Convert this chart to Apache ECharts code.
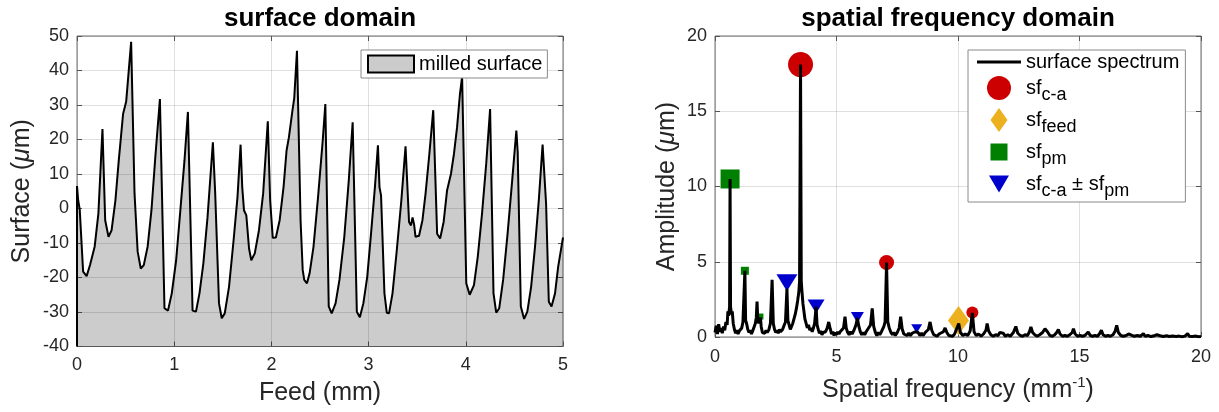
<!DOCTYPE html>
<html>
<head>
<meta charset="utf-8">
<script src="https://cdn.jsdelivr.net/npm/echarts@6/dist/echarts.min.js"></script>
<style>
html,body{margin:0;padding:0;background:#fff;}
#c{width:1219px;height:412px;}
</style>
</head>
<body>
<div id="c"></div>
<script>
// ---------- data ----------
// surface domain: feed position (mm) and surface height (um)
const feedMm = [
  0, 0.012, 0.028, 0.063, 0.099, 0.134, 0.182, 0.220, 0.262, 0.290,
  0.324, 0.356, 0.395, 0.430, 0.474, 0.506, 0.557, 0.592, 0.624, 0.656,
  0.687, 0.727, 0.766, 0.806, 0.853, 0.900, 0.936, 0.975, 1.020, 1.066,
  1.106, 1.141, 1.189, 1.224, 1.260, 1.300, 1.343, 1.398, 1.422, 1.461,
  1.489, 1.520, 1.564, 1.611, 1.651, 1.683, 1.700, 1.718, 1.742, 1.770,
  1.793, 1.829, 1.872, 1.915, 1.963, 1.987, 2.014, 2.046, 2.085, 2.125,
  2.156, 2.180, 2.216, 2.235, 2.263, 2.300, 2.322, 2.338, 2.366, 2.393,
  2.433, 2.480, 2.528, 2.555, 2.590, 2.620, 2.660, 2.700, 2.750, 2.796,
  2.836, 2.879, 2.910, 2.946, 2.986, 3.025, 3.065, 3.096, 3.112, 3.128,
  3.163, 3.187, 3.210, 3.246, 3.290, 3.337, 3.380, 3.416, 3.436, 3.452,
  3.468, 3.483, 3.519, 3.554, 3.586, 3.625, 3.665, 3.705, 3.736, 3.772,
  3.807, 3.847, 3.878, 3.910, 3.940, 3.962, 4.005, 4.040, 4.084, 4.123,
  4.167, 4.210, 4.250, 4.285, 4.313, 4.344, 4.384, 4.430, 4.477, 4.520,
  4.534, 4.566, 4.600, 4.633, 4.672, 4.712, 4.751, 4.790, 4.826, 4.854,
  4.882, 4.918, 4.950, 5.000
];
const surfaceUm = [
  6.5, 2.4, -0.3, -18.3, -19.6, -16.4, -11, -1.5, 23, -3.4,
  -8.2, -6.3, 2.3, 14, 27.4, 31, 48.3, 4.3, -12.5, -17.4,
  -16.4, -11, -0.5, 15, 31.7, -28.9, -29.6, -24.6, -15, 0.4,
  14, 28, -29.6, -29.9, -24.6, -15.9, -2.5, 19.2, 4.3, -27.5,
  -31.8, -30.4, -22.7, -9.2, 3.3, 18.5, 6.2, -0.5, -2, -11.6,
  -15, -13, -6.3, 4.3, 25.3, 2.4, -8.5, -8.4, -3.4, 6.2,
  16.8, 20.6, 28.3, 32, 45.7, -3.4, -17.8, -20.7, -21.7, -18.8,
  -11.1, 3.3, 19.7, 30.3, -28.4, -30.4, -27.5, -20.7, -8.2, 8.1,
  25, -29.9, -31.5, -27.5, -19.8, -7.3, 6.2, 18.3, 6.2, 3.8,
  -24.6, -30.2, -30.4, -24.6, -12.1, 2.4, 18.0, -3.9, -4.9, -2.6,
  -4.6, -8.2, -7.9, -3.4, 4.3, 15.8, 28.5, -7.3, -8.7, -3.9,
  5.2, 10, 15.8, 23.5, 33.2, 38.2, -21.7, -25, -22.2, -14,
  -1.5, 13, 28.8, -24.6, -30.2, -28.9, -20.7, -7.3, 8.1, 22.6,
  16.3, -28.4, -32, -29.9, -22.7, -11.1, 2.4, 18.5, 1.4, -27,
  -28.4, -24.6, -16.9, -8.4
];

// spatial frequency domain: spectrum (mm^-1, um)
const specFreq = [
  0.00,0.05,0.10,0.15,0.20,0.25,0.30,0.35,0.40,0.45,
  0.50,0.53,0.56,0.60,0.62,0.64,0.68,0.71,0.75,0.80,
  0.85,0.90,0.95,1.00,1.05,1.10,1.15,1.20,1.23,1.26,
  1.30,1.35,1.40,1.45,1.50,1.55,1.60,1.66,1.70,1.73,
  1.76,1.80,1.87,1.90,1.95,2.00,2.05,2.10,2.15,2.22,
  2.28,2.35,2.40,2.45,2.50,2.55,2.60,2.65,2.70,2.78,
  2.85,2.90,2.96,3.00,3.05,3.10,3.15,3.20,3.25,3.30,
  3.35,3.40,3.45,3.48,3.52,3.55,3.58,3.62,3.66,3.70,
  3.75,3.80,3.85,3.90,3.95,4.00,4.05,4.10,4.16,4.20,
  4.25,4.30,4.35,4.40,4.45,4.50,4.55,4.62,4.68,4.74,
  4.80,4.85,4.90,4.95,5.00,5.05,5.10,5.15,5.22,5.29,
  5.35,5.40,5.46,5.52,5.58,5.64,5.72,5.80,5.86,5.92,
  5.98,6.04,6.10,6.16,6.22,6.30,6.40,6.47,6.53,6.60,
  6.66,6.72,6.78,6.85,6.95,7.00,7.06,7.11,7.17,7.24,
  7.30,7.36,7.42,7.50,7.58,7.64,7.70,7.77,7.84,7.90,
  7.97,8.04,8.11,8.18,8.24,8.30,8.36,8.43,8.50,8.57,
  8.65,8.78,8.85,8.92,9.00,9.07,9.14,9.22,9.30,9.40,
  9.47,9.54,9.62,9.70,9.78,9.86,9.94,10.03,10.10,10.20,
  10.30,10.40,10.50,10.59,10.66,10.75,10.85,10.95,11.05,11.15,
  11.20,11.26,11.35,11.45,11.55,11.65,11.72,11.79,11.86,11.95,
  12.05,12.15,12.28,12.38,12.46,12.56,12.66,12.76,12.86,12.94,
  13.00,13.07,13.16,13.26,13.36,13.48,13.58,13.68,13.78,13.88,
  13.98,14.06,14.13,14.20,14.30,14.40,14.50,14.60,14.70,14.75,
  14.82,14.92,15.02,15.12,15.22,15.30,15.36,15.44,15.54,15.64,
  15.74,15.84,15.90,15.97,16.07,16.17,16.27,16.38,16.47,16.53,
  16.60,16.70,16.80,16.92,17.02,17.08,17.16,17.26,17.38,17.50,
  17.58,17.63,17.70,17.82,17.95,18.07,18.18,18.25,18.32,18.45,
  18.58,18.70,18.82,18.90,18.98,19.10,19.22,19.34,19.45,19.52,
  19.65,19.80,19.90,20.00
];
const specAmp = [
  0.3,0.75,0.2,0.85,0.35,0.6,0.25,0.7,0.45,1.0,
  0.8,1.7,1.4,2.0,10.5,2.0,1.5,1.7,0.9,0.5,
  0.25,0.45,0.2,0.4,0.3,0.6,1.0,1.1,4.4,1.1,
  0.9,0.5,0.3,0.45,0.2,0.4,0.5,0.9,1.3,2.35,
  1.2,0.9,1.3,0.7,0.3,0.4,0.25,0.45,0.3,0.5,
  0.9,3.8,0.9,0.5,0.3,0.45,0.25,0.5,0.35,0.5,
  0.8,1.0,3.2,1.1,0.8,0.5,0.7,0.9,1.2,1.5,
  1.9,2.4,3.0,3.7,18.1,3.7,3.0,2.2,1.7,1.2,
  0.9,0.6,0.8,0.45,0.6,0.35,0.6,0.9,2.0,0.8,
  0.5,0.25,0.4,0.15,0.3,0.2,0.35,0.6,1.0,0.55,
  0.2,0.35,0.1,0.3,0.15,0.35,0.2,0.35,0.3,0.6,
  1.35,0.6,0.3,0.15,0.35,0.2,0.45,0.8,1.25,0.7,
  0.35,0.15,0.3,0.15,0.35,0.4,0.8,1.9,0.7,0.3,
  0.1,0.3,0.15,0.35,0.7,1.0,4.95,1.0,0.6,0.3,
  0.15,0.3,0.1,0.3,0.6,1.35,0.55,0.2,0.3,0.1,
  0.25,0.1,0.25,0.2,0.35,0.45,0.3,0.1,0.25,0.1,
  0.3,0.5,1.0,0.45,0.15,0.25,0.05,0.2,0.1,0.35,
  0.6,0.3,0.1,0.2,0.05,0.2,0.25,0.9,0.3,0.1,
  0.2,0.1,0.4,1.6,0.35,0.1,0.2,0.05,0.2,0.45,
  0.9,0.4,0.15,0.05,0.15,0.1,0.3,0.4,0.25,0.05,
  0.15,0.05,0.3,0.7,0.25,0.1,0.05,0.15,0.1,0.35,
  0.67,0.3,0.15,0.05,0.15,0.3,0.55,0.35,0.1,0.05,
  0.15,0.3,0.5,0.2,0.05,0.1,0.05,0.15,0.3,0.55,
  0.2,0.05,0.1,0.05,0.1,0.2,0.33,0.1,0.05,0.1,
  0.05,0.25,0.45,0.15,0.05,0.1,0.05,0.15,0.4,0.78,
  0.3,0.1,0.05,0.1,0.2,0.33,0.1,0.05,0.1,0.05,
  0.15,0.22,0.05,0.1,0.03,0.08,0.15,0.27,0.08,0.03,
  0.08,0.03,0.06,0.1,0.04,0.06,0.02,0.06,0.22,0.05,
  0.03,0.06,0.02,0.04
];

// marked frequencies
const caFreq = [3.52, 7.06, 10.59];
const caAmp = [18.1, 4.95, 1.63];
const feedFreq = [10.02];
const feedAmp = [1.1];
const pmFreq = [0.62, 1.23, 1.87];
const pmAmp = [10.5, 4.4, 1.36];
const sideFreq = [2.96, 4.16, 5.86, 8.30];
const sideAmp = [3.6, 2.03, 1.3, 0.55];

// series names
const surfaceName = 'milled surface';
const spectrumName = 'surface spectrum';
const caName = 'sf c-a';
const feedName = 'sf feed';
const pmName = 'sf pm';
const sideName = 'sf c-a ± sf pm';

// ---------- styles ----------
const FONT = '"Liberation Sans", Arial, Helvetica, sans-serif';
const TXT = '#262626';
const GRIDC = 'rgba(38,38,38,0.15)';
const BORDER = '#6e6e6e';
const caSizes = [25, 15, 12];
const pmSizes = [19, 8, 6];
const sideSizes = [[21, 17], [17, 14], [13, 11], [11, 9]];
// legend icons drawn in a 44x24 box (corner points keep the box size)
const BOX = 'M0,0L0,0ZM44,24L44,24Z';
const iconLine = 'path://M0,0H44V3H0Z';
const iconDiamond = 'path://' + BOX + 'M22,0L30.5,12L22,24L13.5,12Z';
const iconSquare = 'path://' + BOX + 'M13.5,3.5H30.5V20.5H13.5Z';
const iconTriDown = 'path://' + BOX + 'M12,3.5H32L22,20.5Z';

function pairs(xs, ys) {
  const n = Math.min(xs.length, ys.length);
  const out = [];
  for (let i = 0; i < n; i++) out.push([xs[i], ys[i]]);
  return out;
}

function mainAxisX(grid, min, max, interval, name, gap, rich) {
  return {
    gridIndex: grid, type: 'value', min: min, max: max, interval: interval,
    name: name, nameLocation: 'middle', nameGap: gap,
    nameTextStyle: { fontSize: 25, color: TXT, fontFamily: FONT, rich: rich },
    axisLine: { show: false, onZero: false },
    axisTick: { show: true, inside: true, length: 5, lineStyle: { color: '#555' } },
    axisLabel: { fontSize: 18, color: TXT, fontFamily: FONT, margin: grid === 0 ? 10 : 11 },
    splitLine: { show: true, lineStyle: { color: GRIDC, width: 1 } }
  };
}
function mainAxisY(grid, min, max, interval, name, gap, rich) {
  return {
    gridIndex: grid, type: 'value', min: min, max: max, interval: interval,
    name: name, nameLocation: 'middle', nameGap: gap,
    nameTextStyle: { fontSize: 25, color: TXT, fontFamily: FONT, rich: rich },
    axisLine: { show: false, onZero: false },
    axisTick: { show: true, inside: true, length: 5, lineStyle: { color: '#555' } },
    axisLabel: { fontSize: 18, color: TXT, fontFamily: FONT, margin: 8 },
    splitLine: { show: true, lineStyle: { color: GRIDC, width: 1 } }
  };
}
function mirrorAxis(grid, pos, min, max, interval) {
  return {
    gridIndex: grid, type: 'value', position: pos, min: min, max: max, interval: interval,
    axisLine: { show: false, onZero: false }, axisLabel: { show: false }, splitLine: { show: false },
    axisTick: { show: true, inside: true, length: 5, lineStyle: { color: '#555' } }
  };
}

const muRich = {
  t: { fontSize: 25, color: TXT, fontFamily: FONT },
  i: { fontSize: 25, color: TXT, fontFamily: FONT, fontStyle: 'italic' }
};
const supRich = {
  t: { fontSize: 25, color: TXT, fontFamily: FONT },
  sup: { fontSize: 15, color: TXT, fontFamily: FONT, padding: [0, 0, 16, 0] }
};

const legendLabels = {};
legendLabels[spectrumName] = '{m|surface spectrum}';
legendLabels[caName] = '{m|sf}{s|c-a}';
legendLabels[feedName] = '{m|sf}{s|feed}';
legendLabels[pmName] = '{m|sf}{s|pm}';
legendLabels[sideName] = '{m|sf}{s|c-a}{m| \u00b1 sf}{s|pm}';

const yMinLeft = -40;
const surfaceData = [[feedMm[0], yMinLeft]].concat(pairs(feedMm, surfaceUm));

const option = {
  animation: false,
  backgroundColor: '#ffffff',
  textStyle: { fontFamily: FONT },
  grid: [
    { left: 77, top: 36, width: 486, height: 310.5, show: true, borderColor: BORDER, borderWidth: 1 },
    { left: 715, top: 36, width: 486, height: 301, show: true, borderColor: BORDER, borderWidth: 1 }
  ],
  xAxis: [
    mainAxisX(0, 0, 5, 1, 'Feed (mm)', 34, muRich),
    mainAxisX(1, 0, 20, 5, '{t|Spatial frequency (mm}{sup|-1}{t|)}', 38, supRich),
    mirrorAxis(0, 'top', 0, 5, 1),
    mirrorAxis(1, 'top', 0, 20, 5)
  ],
  yAxis: [
    mainAxisY(0, -40, 50, 10, '{t|Surface (}{i|\u03bc}{t|m)}', 42, muRich),
    mainAxisY(1, 0, 20, 5, '{t|Amplitude (}{i|\u03bc}{t|m)}', 35, muRich),
    mirrorAxis(0, 'right', -40, 50, 10),
    mirrorAxis(1, 'right', 0, 20, 5)
  ],
  legend: [
    {
      data: [surfaceName], left: 361, top: 50, orient: 'horizontal',
      itemWidth: 46, itemHeight: 17, icon: 'rect', selectedMode: false,
      padding: [4, 5, 4, 6], backgroundColor: '#fff', borderColor: '#8a8a8a', borderWidth: 1, borderRadius: 0,
      itemStyle: { color: '#cccccc', borderColor: '#000', borderWidth: 2 },
      textStyle: { fontSize: 20, color: '#000', fontFamily: FONT }
    },
    {
      data: [
        { name: spectrumName, icon: iconLine },
        { name: caName, icon: 'circle' },
        { name: feedName, icon: iconDiamond },
        { name: pmName, icon: iconSquare },
        { name: sideName, icon: iconTriDown }
      ],
      left: 968, top: 50, orient: 'vertical', selectedMode: false,
      itemWidth: 44, itemHeight: 24, itemGap: 0, symbolKeepAspect: true,
      padding: [2, 6, 2, 9], backgroundColor: '#fff', borderColor: '#8a8a8a', borderWidth: 1, borderRadius: 0,
      formatter: function (n) { return legendLabels[n]; },
      textStyle: {
        fontSize: 20, color: '#000', fontFamily: FONT,
        rich: {
          m: { fontSize: 20, color: '#000', fontFamily: FONT, lineHeight: 31 },
          s: { fontSize: 18, color: '#000', fontFamily: FONT, lineHeight: 31, padding: [14, 0, 0, 0] }
        }
      }
    }
  ],
  graphic: [
    { type: 'text', x: 320, y: 19, style: { text: 'surface domain', font: 'bold 26px ' + FONT, fill: '#000', textAlign: 'center', textVerticalAlign: 'middle' } },
    { type: 'text', x: 958, y: 19, style: { text: 'spatial frequency domain', font: 'bold 26px ' + FONT, fill: '#000', textAlign: 'center', textVerticalAlign: 'middle' } }
  ],
  series: [
    {
      name: surfaceName, type: 'line', xAxisIndex: 0, yAxisIndex: 0,
      data: surfaceData, symbol: 'none',
      lineStyle: { color: '#000', width: 2 },
      itemStyle: { color: '#cccccc' },
      areaStyle: { color: 'rgba(0,0,0,0.2)', opacity: 1, origin: 'start' }
    },
    {
      name: spectrumName, type: 'line', xAxisIndex: 1, yAxisIndex: 1,
      data: pairs(specFreq, specAmp), symbol: 'none',
      lineStyle: { color: '#000', width: 3 }, itemStyle: { color: '#000' }
    },
    {
      name: caName, type: 'scatter', xAxisIndex: 1, yAxisIndex: 1,
      data: pairs(caFreq, caAmp), symbol: 'circle',
      symbolSize: function (v, p) { return caSizes[p.dataIndex]; },
      itemStyle: { color: '#cc0000', opacity: 1 }
    },
    {
      name: feedName, type: 'scatter', xAxisIndex: 1, yAxisIndex: 1,
      data: pairs(feedFreq, feedAmp), symbol: 'diamond', symbolSize: [21, 29],
      itemStyle: { color: '#EDB120', opacity: 1 }
    },
    {
      name: pmName, type: 'scatter', xAxisIndex: 1, yAxisIndex: 1,
      data: pairs(pmFreq, pmAmp), symbol: 'rect',
      symbolSize: function (v, p) { return pmSizes[p.dataIndex]; },
      itemStyle: { color: '#008000', opacity: 1 }
    },
    {
      name: sideName, type: 'scatter', xAxisIndex: 1, yAxisIndex: 1,
      data: pairs(sideFreq, sideAmp), symbol: 'triangle', symbolRotate: 180,
      symbolSize: function (v, p) { return sideSizes[p.dataIndex]; },
      itemStyle: { color: '#0000cc', opacity: 1 }
    }
  ]
};

const chart = echarts.init(document.getElementById('c'), null, { renderer: 'canvas' });
chart.setOption(option);
</script>
</body>
</html>
